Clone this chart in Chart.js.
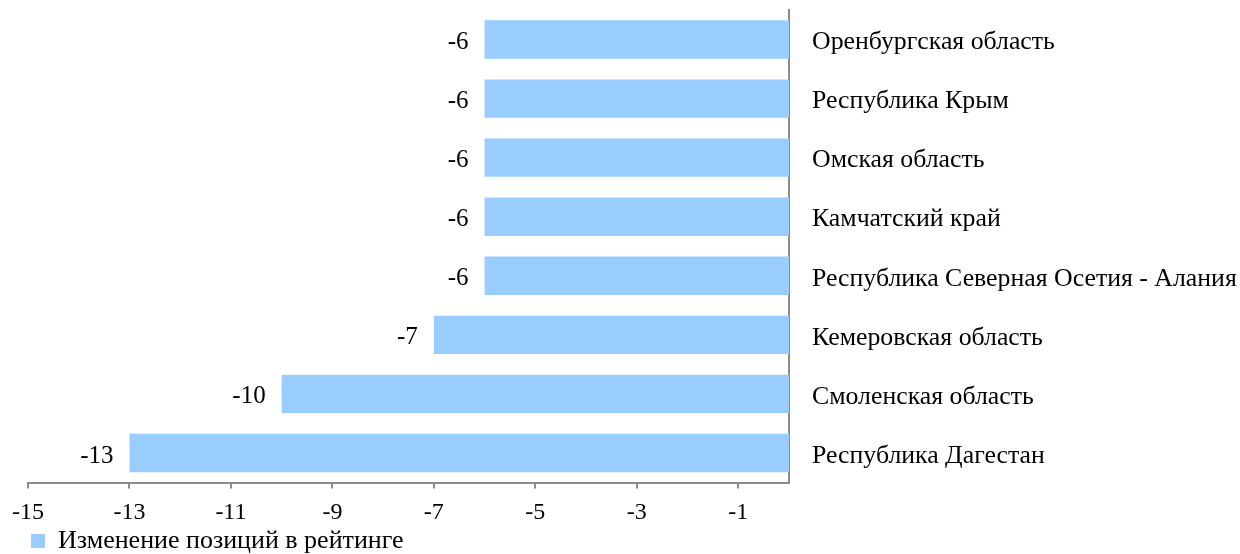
<!DOCTYPE html>
<html>
<head>
<meta charset="utf-8">
<script src="https://cdn.jsdelivr.net/npm/chart.js@4"></script>
<style>
  html, body { margin: 0; padding: 0; background: #fff; }
  #wrap { width: 1240px; height: 554px; }
</style>
</head>
<body>
<div id="wrap"><canvas id="grafico"></canvas></div>
<script>
// Datos del gráfico
const regiones = [
  "Оренбургская область",
  "Республика Крым",
  "Омская область",
  "Камчатский край",
  "Республика Северная Осетия - Алания",
  "Кемеровская область",
  "Смоленская область",
  "Республика Дагестан"
];
const cambios = [-6, -6, -6, -6, -6, -7, -10, -13];
const ticksX = [-15, -13, -11, -9, -7, -5, -3, -1];
const nombreSerie = "Изменение позиций в рейтинге";

const FUENTE = "'Liberation Serif', 'Times New Roman', serif";
const GRIS = "#8c8c8c";

// Etiquetas de valor a la izquierda de cada barra
const etiquetasValor = {
  id: "etiquetasValor",
  afterDatasetsDraw(chart) {
    const ctx = chart.ctx;
    const meta = chart.getDatasetMeta(0);
    ctx.save();
    ctx.font = "25px " + FUENTE;
    ctx.fillStyle = "#000";
    ctx.textAlign = "right";
    ctx.textBaseline = "middle";
    meta.data.forEach((bar, i) => {
      ctx.fillText(String(cambios[i]), bar.x - 16, bar.y + 3);
    });
    ctx.restore();
  }
};

Chart.defaults.font.family = FUENTE;
Chart.defaults.color = "#000";

const ctx = document.getElementById("grafico").getContext("2d");
new Chart(ctx, {
  type: "bar",
  data: {
    labels: regiones,
    datasets: [{
      label: nombreSerie,
      data: cambios,
      backgroundColor: "#99ccff",
      borderWidth: 0,
      barPercentage: 0.65,
      categoryPercentage: 1.0
    }]
  },
  options: {
    indexAxis: "y",
    responsive: true,
    maintainAspectRatio: false,
    animation: false,
    layout: {
      padding: { left: 28, top: 10, right: 0, bottom: -10 }
    },
    plugins: {
      legend: {
        position: "bottom",
        align: "start",
        labels: {
          boxWidth: 14,
          boxHeight: 14,
          padding: 3,
          font: { size: 26 }
        }
      },
      tooltip: { enabled: false }
    },
    scales: {
      x: {
        min: -15,
        max: 0,
        afterBuildTicks: (scale) => {
          scale.ticks = ticksX.map((v) => ({ value: v }));
        },
        afterFit: (scale) => {
          scale.height = 42.5;
        },
        grid: {
          display: true,
          drawOnChartArea: false,
          drawTicks: true,
          tickLength: 6,
          color: GRIS,
          lineWidth: 2
        },
        border: { display: true, color: GRIS, width: 2 },
        ticks: { padding: 10, maxRotation: 0, autoSkip: false, font: { size: 24 } }
      },
      y: {
        position: "right",
        afterFit: (scale) => {
          scale.width = 451;
          scale.paddingTop = 0;
          scale.paddingBottom = 0;
        },
        grid: { display: false, drawTicks: false },
        border: { display: true, color: GRIS, width: 2 },
        ticks: { padding: 23, labelOffset: 3, autoSkip: false, font: { size: 25.8 } }
      }
    }
  },
  plugins: [etiquetasValor]
});
</script>
</body>
</html>
